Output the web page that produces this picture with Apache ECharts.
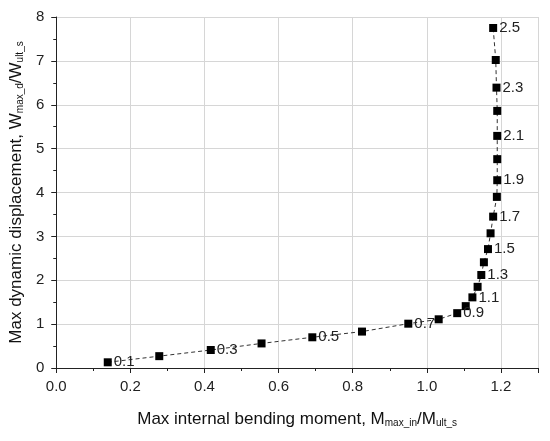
<!DOCTYPE html>
<html>
<head>
<meta charset="utf-8">
<script src="https://cdn.jsdelivr.net/npm/echarts@6/dist/echarts.min.js"></script>
<style>html,body{margin:0;padding:0;background:#fff}#c{width:550px;height:441px}</style>
</head>
<body>
<div id="c"></div>
<script>
const paramLabels = ['0.1','0.2','0.3','0.4','0.5','0.6','0.7','0.8','0.9','1.0','1.1','1.2','1.3','1.4','1.5','1.6','1.7','1.8','1.9','2.0','2.1','2.2','2.3','2.4','2.5'];
const momentRatio = [0.139,0.278,0.417,0.554,0.691,0.825,0.950,1.032,1.082,1.105,1.123,1.137,1.147,1.154,1.165,1.172,1.179,1.189,1.190,1.190,1.190,1.190,1.188,1.186,1.179];
const displacementRatio = [0.13,0.27,0.41,0.56,0.70,0.83,1.01,1.11,1.25,1.41,1.61,1.85,2.12,2.41,2.71,3.07,3.45,3.90,4.28,4.76,5.29,5.86,6.39,7.02,7.75];
const xTicks = {min:0, max:1.3, interval:0.2};
const yTicks = {min:0, max:8, interval:1};

const data = momentRatio.map((x,i)=>({value:[x, displacementRatio[i]], label:{show: i % 2 === 0, formatter: paramLabels[i]}}));
const font = 'Liberation Sans, Arial, sans-serif';
function nameRich(size){
  return {rich:{
    m:{fontSize:size,fontFamily:font,color:'#111',verticalAlign:'bottom',lineHeight:size+3},
    s:{fontSize:Math.round(size*0.6),fontFamily:font,color:'#111',verticalAlign:'bottom',lineHeight:Math.round(size*0.6)+1}
  }};
}
const chart = echarts.init(document.getElementById('c'), null, {renderer:'canvas'});
chart.setOption({
  animation:false,
  backgroundColor:'#fff',
  grid:{left:56, top:17, right:12, bottom:73, containLabel:false},
  xAxis:{
    type:'value', min:xTicks.min, max:xTicks.max, interval:xTicks.interval,
    name:'{m|Max internal bending moment, M}{s|max_in}{m|/M}{s|ult_s}',
    nameLocation:'middle', nameGap:40,
    nameTextStyle:nameRich(17),
    axisLine:{show:true,lineStyle:{color:'#222',width:1}},
    axisTick:{show:true,inside:false,length:5,lineStyle:{color:'#222'}},
    minorTick:{show:true,splitNumber:2,length:3,lineStyle:{color:'#222'}},
    splitLine:{show:true,lineStyle:{color:'#d6d6d6',width:1}},
    axisLabel:{fontSize:15,fontFamily:font,color:'#222',margin:11,
      formatter:function(v){const r=Math.round(v*10); if(r%2!==0) return ''; return v.toFixed(1);}}
  },
  yAxis:{
    type:'value', min:yTicks.min, max:yTicks.max, interval:yTicks.interval,
    name:'{m|Max dynamic displacement, W}{s|max_d}{m|/W}{s|ult_s}',
    nameLocation:'middle', nameGap:31,
    nameTextStyle:nameRich(17),
    axisLine:{show:true,lineStyle:{color:'#222',width:1}},
    axisTick:{show:true,inside:false,length:5,lineStyle:{color:'#222'}},
    minorTick:{show:true,splitNumber:2,length:3,lineStyle:{color:'#222'}},
    splitLine:{show:true,lineStyle:{color:'#d6d6d6',width:1}},
    axisLabel:{fontSize:15,fontFamily:font,color:'#222',margin:12}
  },
  series:[{
    type:'line', data:data,
    symbol:'rect', symbolSize:8,
    itemStyle:{color:'#000'},
    lineStyle:{color:'#333',width:1,type:[4,3]},
    label:{position:'right',distance:2,fontSize:15,fontFamily:font,color:'#222'}
  }]
});
</script>
</body>
</html>
